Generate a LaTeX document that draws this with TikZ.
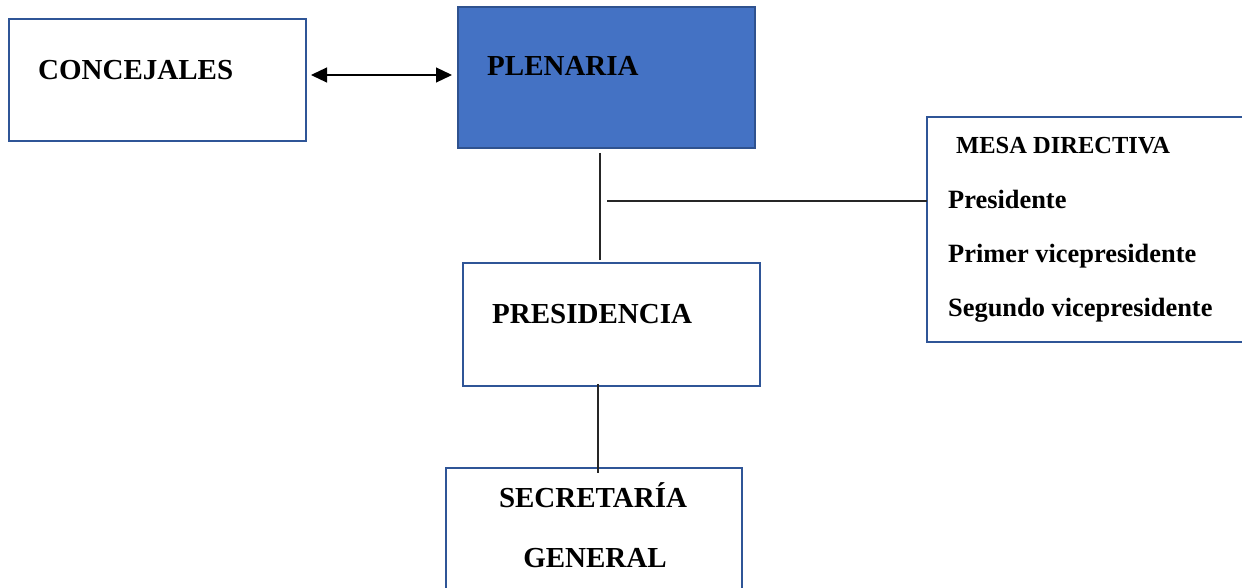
\documentclass[tikz,border=0pt]{standalone}
\usepackage{fontspec}
\setmainfont{Liberation Serif}
\usetikzlibrary{arrows.meta}
\definecolor{boxline}{HTML}{2F5597}
\definecolor{plenfill}{HTML}{4472C4}
\definecolor{plenline}{HTML}{2F528F}
\begin{document}
\begin{tikzpicture}[x=1pt,y=-1pt,
  orgbox/.style={draw=boxline,line width=2.2pt,fill=white},
  bigtxt/.style={font=\fontsize{29}{34}\selectfont\bfseries,inner sep=0pt},
  midtxt/.style={font=\fontsize{24.5}{30}\selectfont\bfseries,inner sep=0pt},
  smalltxt/.style={font=\fontsize{26.4}{30}\selectfont\bfseries,inner sep=0pt},
  conn/.style={draw=black!85,line width=1.4pt},
  bothtips/.style={{Triangle[length=16pt,width=15pt]}-{Triangle[length=16pt,width=15pt]}}]
\useasboundingbox (0,0) rectangle (1242,588);
% boxes
\draw[orgbox] (9,19) rectangle (306,141);
\coordinate (concE) at (306,75);
\draw[draw=plenline,line width=2.2pt,fill=plenfill] (458,7) rectangle (755,148);
\coordinate (plenW) at (458,75);
\draw[orgbox] (463,263) rectangle (760,386);
\draw[orgbox] (927,117) rectangle (1252,342);
\draw[orgbox] (446,468) rectangle (742,600);
% texts
\node[bigtxt,anchor=base west] (tconc) at (38,80) {CONCEJALES};
\node[bigtxt,anchor=base west] (tplen) at (487,76) {PLENARIA};
\node[bigtxt,anchor=base west] (tpres) at (492,323) {PRESIDENCIA};
\node[bigtxt,anchor=base] (tsec) at (593,507) {SECRETARÍA};
\node[bigtxt,anchor=base] (tgen) at (595,567) {GENERAL};
\node[midtxt,anchor=base west] (tmesa) at (956,154) {MESA DIRECTIVA};
\node[smalltxt,anchor=base west] (tp1) at (948,208) {Presidente};
\node[smalltxt,anchor=base west] (tp2) at (948,262) {Primer vicepresidente};
\node[smalltxt,anchor=base west] (tp3) at (948,316) {Segundo vicepresidente};
% connectors
\coordinate (a1) at (600,153);
\coordinate (a2) at (600,260);
\coordinate (h1) at (607,201);
\coordinate (h2) at (927,201);
\coordinate (b1) at (598,384);
\coordinate (b2) at (598,473);
\draw[black,line width=1.2pt,bothtips,shorten <=5pt,shorten >=6pt] (concE) -- (plenW);
\draw[conn] (a1) -- (a2);
\draw[conn] (h1) -- (h2);
\draw[conn] (b1) -- (b2);
\end{tikzpicture}
\end{document}
